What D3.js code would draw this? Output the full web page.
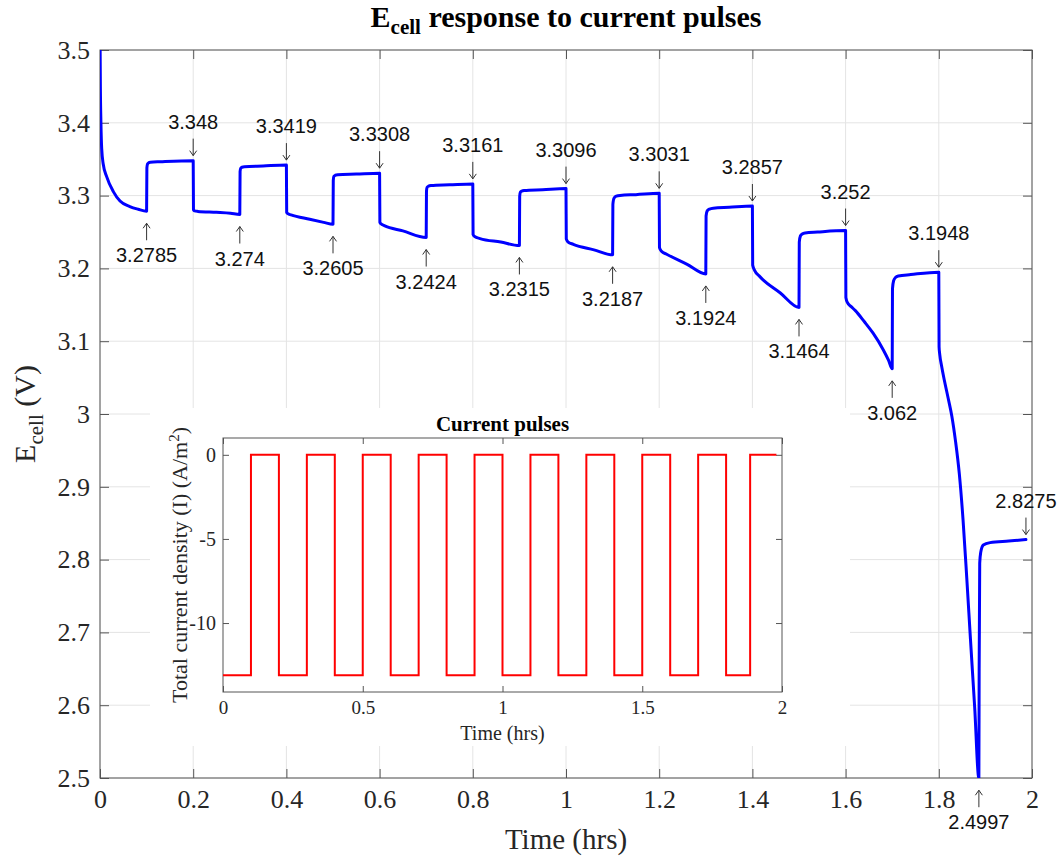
<!DOCTYPE html>
<html><head><meta charset="utf-8">
<script src="https://cdn.jsdelivr.net/npm/d3@7"></script>
<style>body{margin:0;background:#fff} svg{display:block}</style>
</head><body>
<svg id="chart" width="1060" height="859"></svg>
<script>
// ---- data ----
const ecellTime = [
  0, 0.0008, 0.002, 0.0036, 0.007, 0.0143, 0.0286, 0.043, 0.064, 0.082, 0.1,
  0.1006, 0.102, 0.1045, 0.108, 0.13, 0.2,
  0.2006, 0.203, 0.21, 0.25, 0.28, 0.3,
  0.3006, 0.302, 0.305, 0.31, 0.35, 0.4,
  0.4006, 0.403, 0.41, 0.45, 0.48, 0.5,
  0.5006, 0.502, 0.505, 0.51, 0.55, 0.6,
  0.6006, 0.603, 0.61, 0.65, 0.7,
  0.7006, 0.702, 0.705, 0.71, 0.75, 0.8,
  0.8006, 0.804, 0.8155, 0.86, 0.9,
  0.9006, 0.902, 0.905, 0.91, 0.95, 1.0,
  1.0006, 1.004, 1.0157, 1.06, 1.1,
  1.1006, 1.103, 1.108, 1.116, 1.15, 1.2,
  1.2006, 1.205, 1.216, 1.26, 1.3,
  1.3006, 1.303, 1.308, 1.316, 1.35, 1.4,
  1.4006, 1.405, 1.416, 1.46, 1.5,
  1.5006, 1.503, 1.507, 1.513, 1.54, 1.6,
  1.6006, 1.604, 1.612, 1.621, 1.64, 1.659, 1.681, 1.692, 1.7,
  1.7006, 1.703, 1.707, 1.713, 1.74, 1.8,
  1.8006, 1.802, 1.806, 1.812, 1.82, 1.828, 1.836, 1.844, 1.852, 1.86, 1.868, 1.877, 1.886,
  1.8866, 1.8878, 1.890, 1.8955, 1.91, 1.95, 1.987
];
const ecellVolt = [
  3.53, 3.45, 3.40, 3.365, 3.343, 3.326, 3.3055, 3.2925, 3.285, 3.2812, 3.2785,
  3.338, 3.3435, 3.345, 3.3458, 3.3465, 3.348,
  3.2805, 3.2790, 3.2783, 3.2770, 3.2757, 3.274,
  3.333, 3.3375, 3.339, 3.3397, 3.3407, 3.3419,
  3.277, 3.2752, 3.2735, 3.2675, 3.2632, 3.2605,
  3.321, 3.3265, 3.328, 3.3287, 3.3296, 3.3308,
  3.2635, 3.2612, 3.2588, 3.2515, 3.2424,
  3.306, 3.3115, 3.313, 3.3138, 3.3148, 3.3161,
  3.2465, 3.2438, 3.2410, 3.2362, 3.2315,
  3.299, 3.3045, 3.3062, 3.307, 3.3081, 3.3096,
  3.2405, 3.2365, 3.2330, 3.2255, 3.2187,
  3.288, 3.2965, 3.2992, 3.3003, 3.3013, 3.3031,
  3.2285, 3.2235, 3.2195, 3.2055, 3.1924,
  3.272, 3.279, 3.2815, 3.2827, 3.2839, 3.2857,
  3.2045, 3.197, 3.1887, 3.1662, 3.1464,
  3.236, 3.2445, 3.2472, 3.2487, 3.2500, 3.252,
  3.160, 3.153, 3.1475, 3.142, 3.127, 3.111, 3.088, 3.074, 3.062,
  3.172, 3.183, 3.1875, 3.1895, 3.1915, 3.1948,
  3.092, 3.082, 3.066, 3.046, 3.022, 2.997, 2.962, 2.918, 2.855, 2.775, 2.69, 2.597, 2.4997,
  2.65, 2.795, 2.810, 2.820, 2.8233, 2.8255, 2.8275
];
const troughTime  = [0.1, 0.3, 0.5, 0.7, 0.9, 1.1, 1.3, 1.5, 1.7, 1.886];
const troughLabel = ["3.2785","3.274","3.2605","3.2424","3.2315","3.2187","3.1924","3.1464","3.062","2.4997"];
const peakTime    = [0.2, 0.4, 0.6, 0.8, 1.0, 1.2, 1.4, 1.6, 1.8, 1.987];
const peakLabel   = ["3.348","3.3419","3.3308","3.3161","3.3096","3.3031","3.2857","3.252","3.1948","2.8275"];

const pulseTime    = [0, 0.1, 0.2, 0.3, 0.4, 0.5, 0.6, 0.7, 0.8, 0.9, 1.0, 1.1, 1.2, 1.3, 1.4, 1.5, 1.6, 1.7, 1.8, 1.886, 1.98];
const pulseCurrent = [-13.1, 0, -13.1, 0, -13.1, 0, -13.1, 0, -13.1, 0, -13.1, 0, -13.1, 0, -13.1, 0, -13.1, 0, -13.1, 0, 0];

const xTicks = [0, 0.2, 0.4, 0.6, 0.8, 1, 1.2, 1.4, 1.6, 1.8, 2];
const yTicks = [2.5, 2.6, 2.7, 2.8, 2.9, 3, 3.1, 3.2, 3.3, 3.4, 3.5];
const insetXTicks = [0, 0.5, 1, 1.5, 2];
const insetYTicks = [-10, -5, 0];

// ---- drawing ----
const svg = d3.select("#chart");
const serif = "'Liberation Serif','Times New Roman',Times,serif";
const sans = "'Liberation Sans',Arial,Helvetica,sans-serif";
const axisCol = "#555";
const textCol = "#262626";

const M = {l: 100, r: 1032, t: 50, b: 778};
const x = d3.scaleLinear().domain([0, 2]).range([M.l, M.r]);
const y = d3.scaleLinear().domain([2.5, 3.5]).range([M.b, M.t]);
const fmt = d => String(d);

svg.append("rect").attr("width", 1060).attr("height", 859).attr("fill", "#fff");

// grid
const grid = svg.append("g");
grid.selectAll(".gx").data(xTicks).join("line")
  .attr("x1", d => x(d)).attr("x2", d => x(d)).attr("y1", M.t).attr("y2", M.b)
  .attr("stroke", "#e4e4e4").attr("stroke-width", 1);
grid.selectAll(".gy").data(yTicks).join("line")
  .attr("y1", d => y(d)).attr("y2", d => y(d)).attr("x1", M.l).attr("x2", M.r)
  .attr("stroke", "#e4e4e4").attr("stroke-width", 1);

// axes
function styleAxis(g) {
  g.select(".domain").remove();
  g.selectAll(".tick line").attr("stroke", axisCol);
  g.selectAll("text").attr("fill", textCol).attr("font-family", serif);
}
svg.append("g").attr("transform", `translate(0,${M.b})`)
  .call(d3.axisBottom(x).tickValues(xTicks).tickFormat(fmt).tickSizeInner(-9).tickSizeOuter(0).tickPadding(12))
  .call(styleAxis).selectAll("text").attr("font-size", 26);
svg.append("g").attr("transform", `translate(0,${M.t})`)
  .call(d3.axisTop(x).tickValues(xTicks).tickFormat("").tickSizeInner(-9).tickSizeOuter(0))
  .call(styleAxis);
svg.append("g").attr("transform", `translate(${M.l},0)`)
  .call(d3.axisLeft(y).tickValues(yTicks).tickFormat(fmt).tickSizeInner(-9).tickSizeOuter(0).tickPadding(10))
  .call(styleAxis).selectAll("text").attr("font-size", 26);
svg.append("g").attr("transform", `translate(${M.r},0)`)
  .call(d3.axisRight(y).tickValues(yTicks).tickFormat("").tickSizeInner(-9).tickSizeOuter(0))
  .call(styleAxis);
svg.append("rect").attr("x", M.l).attr("y", M.t).attr("width", M.r - M.l).attr("height", M.b - M.t)
  .attr("fill", "none").attr("stroke", axisCol).attr("stroke-width", 1);

// clip + main line
svg.append("clipPath").attr("id", "clipMain").append("rect")
  .attr("x", M.l).attr("y", M.t).attr("width", M.r - M.l).attr("height", M.b - M.t);
const ecellData = ecellTime.map((t, i) => [t, ecellVolt[i]]);
svg.append("path").datum(ecellData)
  .attr("clip-path", "url(#clipMain)")
  .attr("d", d3.line().x(d => x(d[0])).y(d => y(d[1])).curve(d3.curveMonotoneX))
  .attr("fill", "none").attr("stroke", "#0000ff").attr("stroke-width", 3)
  .attr("stroke-linejoin", "round").attr("stroke-linecap", "round");

// title
const title = svg.append("text").attr("x", (M.l + M.r) / 2).attr("y", 27)
  .attr("text-anchor", "middle").attr("font-family", serif).attr("font-weight", "bold")
  .attr("font-size", 30).attr("fill", "#000");
title.append("tspan").text("E");
title.append("tspan").attr("font-size", 21).attr("dy", 7).text("cell");
title.append("tspan").attr("dy", -7).text(" response to current pulses");

// axis labels
svg.append("text").attr("x", (M.l + M.r) / 2).attr("y", 849)
  .attr("text-anchor", "middle").attr("font-family", serif).attr("font-size", 29)
  .attr("fill", textCol).text("Time (hrs)");
const yl = svg.append("text").attr("transform", `translate(35,${(M.t + M.b) / 2}) rotate(-90)`)
  .attr("text-anchor", "middle").attr("font-family", serif).attr("font-size", 30).attr("fill", textCol);
yl.append("tspan").text("E");
yl.append("tspan").attr("font-size", 21).attr("dy", 8).text("cell");
yl.append("tspan").attr("dy", -8).text(" (V)");

// annotations
const ann = svg.append("g").attr("font-family", sans).attr("font-size", 20).attr("fill", "#111");
peakTime.forEach((t, i) => {
  const px = x(t), py = y(+peakLabel[i]);
  ann.append("path").attr("d", `M${px},${py - 22}L${px},${py - 5}M${px - 3.5},${py - 10}L${px},${py - 5}L${px + 3.5},${py - 10}`)
    .attr("stroke", "#333").attr("fill", "none").attr("stroke-width", 1);
  ann.append("text").attr("x", px).attr("y", py - 32).attr("text-anchor", "middle").text(peakLabel[i]);
});
troughTime.forEach((t, i) => {
  const px = x(t), py = y(+troughLabel[i]);
  ann.append("path").attr("d", `M${px},${py + 29}L${px},${py + 12}M${px - 3.5},${py + 17}L${px},${py + 12}L${px + 3.5},${py + 17}`)
    .attr("stroke", "#333").attr("fill", "none").attr("stroke-width", 1);
  ann.append("text").attr("x", px).attr("y", py + 51).attr("text-anchor", "middle").text(troughLabel[i]);
});

// ---- inset ----
svg.append("rect").attr("x", 150).attr("y", 408).attr("width", 700).attr("height", 338).attr("fill", "#fff");
const I = {l: 223, r: 782, t: 438, b: 692};
const ix = d3.scaleLinear().domain([0, 2]).range([I.l, I.r]);
const iy = d3.scaleLinear().domain([-14.1, 1]).range([I.b, I.t]);

svg.append("g").attr("transform", `translate(0,${I.b})`)
  .call(d3.axisBottom(ix).tickValues(insetXTicks).tickFormat(fmt).tickSizeInner(-6).tickSizeOuter(0).tickPadding(9))
  .call(styleAxis).selectAll("text").attr("font-size", 19);
svg.append("g").attr("transform", `translate(0,${I.t})`)
  .call(d3.axisTop(ix).tickValues(insetXTicks).tickFormat("").tickSizeInner(-6).tickSizeOuter(0))
  .call(styleAxis);
svg.append("g").attr("transform", `translate(${I.l},0)`)
  .call(d3.axisLeft(iy).tickValues(insetYTicks).tickFormat(fmt).tickSizeInner(-6).tickSizeOuter(0).tickPadding(7))
  .call(styleAxis).selectAll("text").attr("font-size", 20);
svg.append("g").attr("transform", `translate(${I.r},0)`)
  .call(d3.axisRight(iy).tickValues(insetYTicks).tickFormat("").tickSizeInner(-6).tickSizeOuter(0))
  .call(styleAxis);
svg.append("rect").attr("x", I.l).attr("y", I.t).attr("width", I.r - I.l).attr("height", I.b - I.t)
  .attr("fill", "none").attr("stroke", axisCol).attr("stroke-width", 1);

const pulseData = pulseTime.map((t, i) => [t, pulseCurrent[i]]);
svg.append("path").datum(pulseData)
  .attr("d", d3.line().x(d => ix(d[0])).y(d => iy(d[1])).curve(d3.curveStepAfter))
  .attr("fill", "none").attr("stroke", "#ff0000").attr("stroke-width", 2);

svg.append("text").attr("x", (I.l + I.r) / 2).attr("y", 431)
  .attr("text-anchor", "middle").attr("font-family", serif).attr("font-weight", "bold")
  .attr("font-size", 21).attr("fill", "#000").text("Current pulses");
svg.append("text").attr("x", (I.l + I.r) / 2).attr("y", 740)
  .attr("text-anchor", "middle").attr("font-family", serif).attr("font-size", 20)
  .attr("fill", textCol).text("Time (hrs)");
const iyl = svg.append("text").attr("transform", `translate(187,${(I.t + I.b) / 2}) rotate(-90)`)
  .attr("text-anchor", "middle").attr("font-family", serif).attr("font-size", 22).attr("fill", textCol);
iyl.append("tspan").text("Total current density (I) (A/m");
iyl.append("tspan").attr("font-size", 15).attr("dy", -8).text("2");
iyl.append("tspan").attr("dy", 8).text(")");
</script>
</body></html>
